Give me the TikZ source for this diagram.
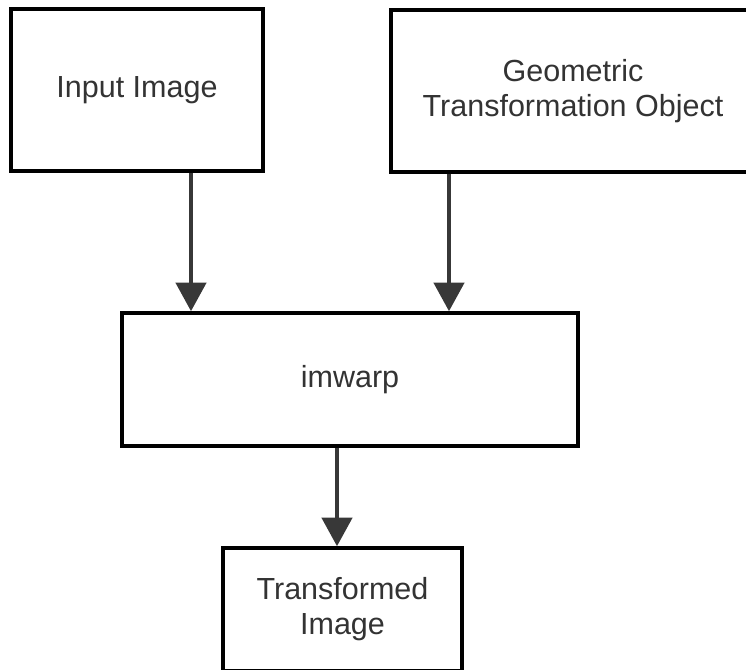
\documentclass[tikz,border=0pt]{standalone}
\usepackage{fontspec}
\setmainfont{Liberation Sans}
\usepackage{xcolor}
\usetikzlibrary{arrows.meta}
\definecolor{textgray}{HTML}{333333}
\definecolor{arrowgray}{HTML}{383838}
\begin{document}
\begin{tikzpicture}[x=1cm,y=1cm,
    font=\fontsize{21.7}{24.8}\selectfont,
    box/.style={draw=black,line width=2.4pt,fill=white,text=textgray,
      align=center,inner sep=0pt},
    flow/.style={draw=arrowgray,line width=3.5pt,
      -{Triangle[width=0.75cm,length=0.72cm]}}]
  \useasboundingbox (0,0) rectangle (18.65,16.75);
  \node[box,minimum width=6.3cm,minimum height=4.05cm] (input) at (3.425,14.5)
    {Input Image};
  \node[box,minimum width=9.1cm,minimum height=4.05cm] (geom) at (14.325,14.475)
    {Geometric\\Transformation Object};
  \node[box,minimum width=11.4cm,minimum height=3.325cm] (warp) at (8.75,7.2625)
    {imwarp};
  \node[box,minimum width=5.975cm,minimum height=3.075cm] (out) at (8.5625,1.5125)
    {Transformed\\Image};
  \draw[flow] ([xshift=1.35cm]input.south) -- ([xshift=1.35cm]input.south |- warp.north);
  \draw[flow] ([xshift=-3.1cm]geom.south) -- ([xshift=-3.1cm]geom.south |- warp.north);
  \draw[flow] ([xshift=-0.325cm]warp.south) -- ([xshift=-0.325cm]warp.south |- out.north);
\end{tikzpicture}
\end{document}
